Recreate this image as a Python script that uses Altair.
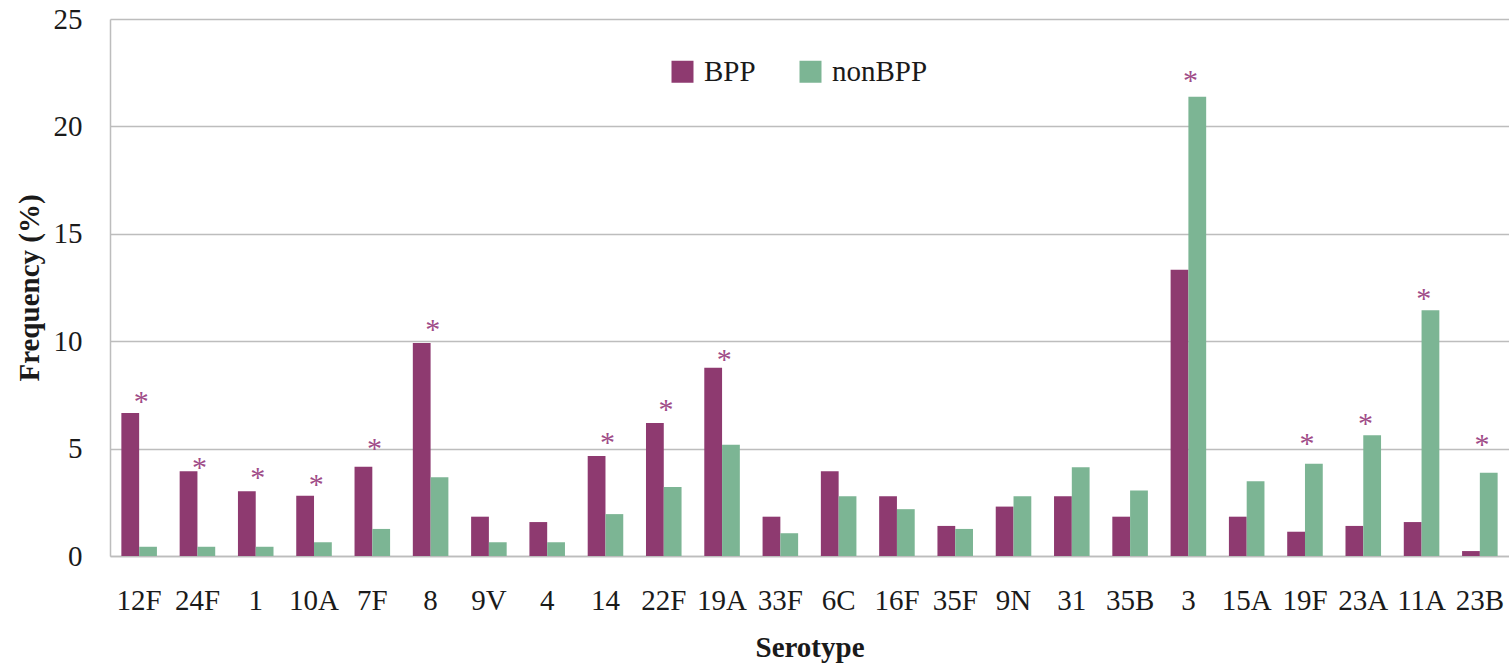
import altair as alt
import pandas as pd

# Serotype frequencies (%) for the two patient groups
serotypes = ["12F", "24F", "1", "10A", "7F", "8", "9V", "4", "14", "22F", "19A", "33F",
             "6C", "16F", "35F", "9N", "31", "35B", "3", "15A", "19F", "23A", "11A", "23B"]
bpp = [6.66, 3.94, 3.01, 2.80, 4.15, 9.92, 1.83, 1.58, 4.65, 6.19, 8.76, 1.83,
       3.94, 2.78, 1.40, 2.30, 2.78, 1.83, 13.33, 1.83, 1.13, 1.40, 1.58, 0.23]
nonbpp = [0.43, 0.43, 0.43, 0.64, 1.26, 3.67, 0.64, 0.64, 1.95, 3.21, 5.18, 1.06,
          2.78, 2.18, 1.26, 2.78, 4.13, 3.05, 21.38, 3.48, 4.29, 5.62, 11.44, 3.87]

# Serotypes with a significant difference, and the height of their asterisk
starred = ["12F", "24F", "1", "10A", "7F", "8", "14", "22F", "19A", "3", "19F", "23A", "11A", "23B"]
star_level = [7.5, 4.4, 3.95, 3.65, 5.3, 10.85, 5.6, 7.1, 9.45, 22.45, 5.55, 6.45, 12.3, 5.5]

groups = ["BPP", "nonBPP"]
colors = ["#8E3A70", "#7CB594"]

bars_df = pd.DataFrame({
    "Serotype": serotypes * 2,
    "Group": [groups[0]] * len(serotypes) + [groups[1]] * len(serotypes),
    "Frequency": bpp + nonbpp,
})
stars_df = pd.DataFrame({"Serotype": starred, "Level": star_level, "Mark": ["*"] * len(starred)})

FONT = "'Liberation Serif', 'DejaVu Serif', serif"
GRID = "#BDBDBD"
INK = "#1a1a1a"

x_axis = alt.Axis(
    title="Serotype", labelAngle=0, ticks=False, labelFont=FONT, labelFontSize=29,
    labelColor=INK, labelPadding=30, titleFont=FONT, titleFontSize=29,
    titleFontWeight="bold", titleColor=INK, titlePadding=18,
    domainColor=GRID, domainWidth=1.5,
)
y_axis = alt.Axis(
    title="Frequency (%)", values=[0, 5, 10, 15, 20, 25], ticks=False,
    labelFont=FONT, labelFontSize=29, labelColor=INK, labelPadding=28,
    titleFont=FONT, titleFontSize=29, titleFontWeight="bold", titleColor=INK,
    titlePadding=9, grid=True, gridColor=GRID, gridWidth=1.5,
    domainColor=GRID, domainWidth=1.5,
)
x_scale = alt.Scale(paddingInner=0.39, paddingOuter=0.195)
y_scale = alt.Scale(domain=[0, 25], nice=False)

bars = alt.Chart(bars_df).mark_bar().encode(
    x=alt.X("Serotype:N", sort=serotypes, scale=x_scale, axis=x_axis),
    xOffset=alt.XOffset("Group:N", sort=groups),
    y=alt.Y("Frequency:Q", scale=y_scale, axis=y_axis),
    color=alt.Color(
        "Group:N",
        scale=alt.Scale(domain=groups, range=colors),
        legend=alt.Legend(
            orient="none", legendX=558, legendY=38, direction="horizontal", title=None,
            symbolType="square", symbolSize=484, symbolStrokeWidth=0,
            labelFont=FONT, labelFontSize=29, labelColor=INK,
            labelOffset=7, columnPadding=40,
        ),
    ),
)

stars = alt.Chart(stars_df).mark_text(
    font=FONT, fontSize=30, color="#A04C88", baseline="middle", dy=7
).encode(
    x=alt.X("Serotype:N", sort=serotypes, bandPosition=0.56),
    y=alt.Y("Level:Q", title="Frequency (%)"),
    text="Mark:N",
)

chart = (
    alt.layer(bars, stars)
    .properties(
        width=1399, height=537,
        autosize=alt.AutoSizeParams(type="none"),
        padding={"left": 110, "top": 19, "right": 0, "bottom": 109},
        background="white",
    )
    .configure_view(stroke=None)
)

chart.save("out.html", embed_options={"renderer": "svg", "actions": False})
